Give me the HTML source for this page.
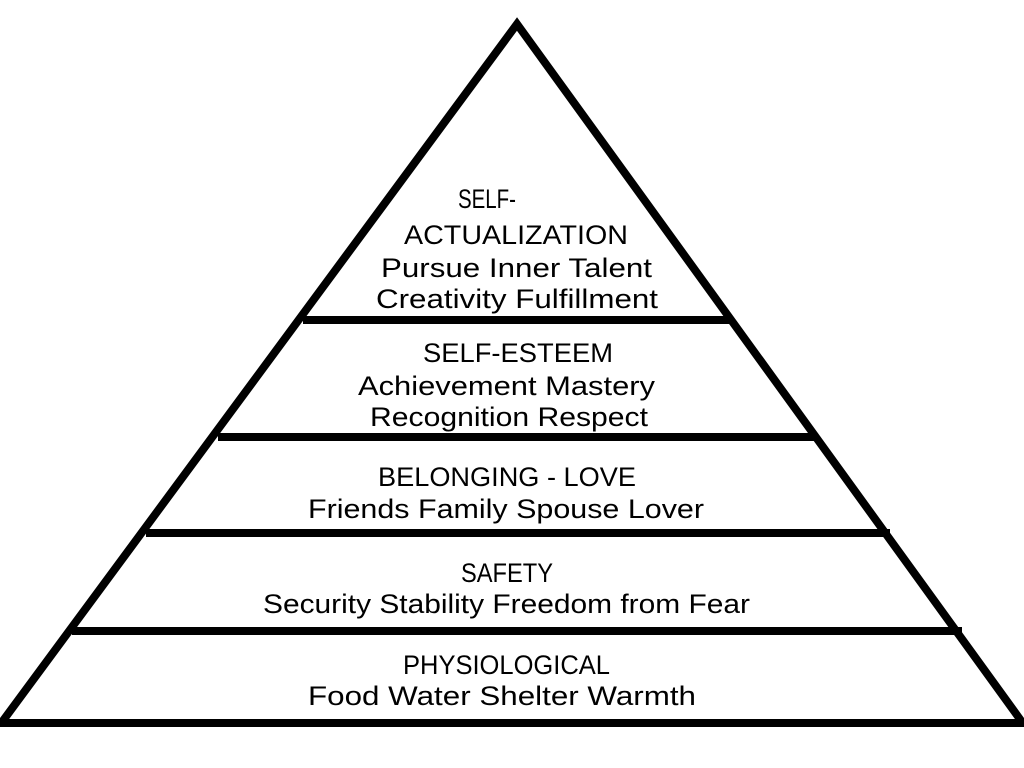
<!DOCTYPE html>
<html><head><meta charset="utf-8"><style>html,body{margin:0;padding:0;background:#fff}svg{display:block}</style></head>
<body>
<svg width="1024" height="768" viewBox="0 0 1024 768" xmlns="http://www.w3.org/2000/svg">
<rect width="1024" height="768" fill="#fff"/>
<g stroke="#000" stroke-width="8" fill="none" stroke-linecap="butt">
<polyline points="2,722 517,24 1022,722" stroke-linejoin="miter"/>
<line x1="0" y1="723" x2="1024" y2="723"/>
<line x1="72" y1="631" x2="962" y2="631"/>
<line x1="146" y1="533" x2="890" y2="533"/>
<line x1="218" y1="437" x2="815" y2="437"/>
<line x1="303" y1="320" x2="730" y2="320"/>
</g>
<g font-family="Liberation Sans, sans-serif" font-size="27" fill="#000" lengthAdjust="spacingAndGlyphs">
<text x="458" y="208" textLength="58" lengthAdjust="spacingAndGlyphs">SELF-</text>
<text x="404" y="244" textLength="224" lengthAdjust="spacingAndGlyphs">ACTUALIZATION</text>
<text x="381" y="277" textLength="271" lengthAdjust="spacingAndGlyphs">Pursue Inner Talent</text>
<text x="376" y="308" textLength="282" lengthAdjust="spacingAndGlyphs">Creativity  Fulfillment</text>
<text x="423" y="362" textLength="190" lengthAdjust="spacingAndGlyphs">SELF-ESTEEM</text>
<text x="358" y="395" textLength="297" lengthAdjust="spacingAndGlyphs">Achievement Mastery</text>
<text x="370" y="426" textLength="278" lengthAdjust="spacingAndGlyphs">Recognition  Respect</text>
<text x="378" y="486" textLength="258" lengthAdjust="spacingAndGlyphs">BELONGING - LOVE</text>
<text x="308" y="518" textLength="396" lengthAdjust="spacingAndGlyphs">Friends  Family  Spouse  Lover</text>
<text x="461" y="582" textLength="92" lengthAdjust="spacingAndGlyphs">SAFETY</text>
<text x="263" y="613" textLength="487" lengthAdjust="spacingAndGlyphs">Security  Stability  Freedom from Fear</text>
<text x="403" y="674" textLength="207" lengthAdjust="spacingAndGlyphs">PHYSIOLOGICAL</text>
<text x="308" y="705" textLength="388" lengthAdjust="spacingAndGlyphs">Food  Water  Shelter  Warmth</text>
</g>
</svg>
</body></html>
